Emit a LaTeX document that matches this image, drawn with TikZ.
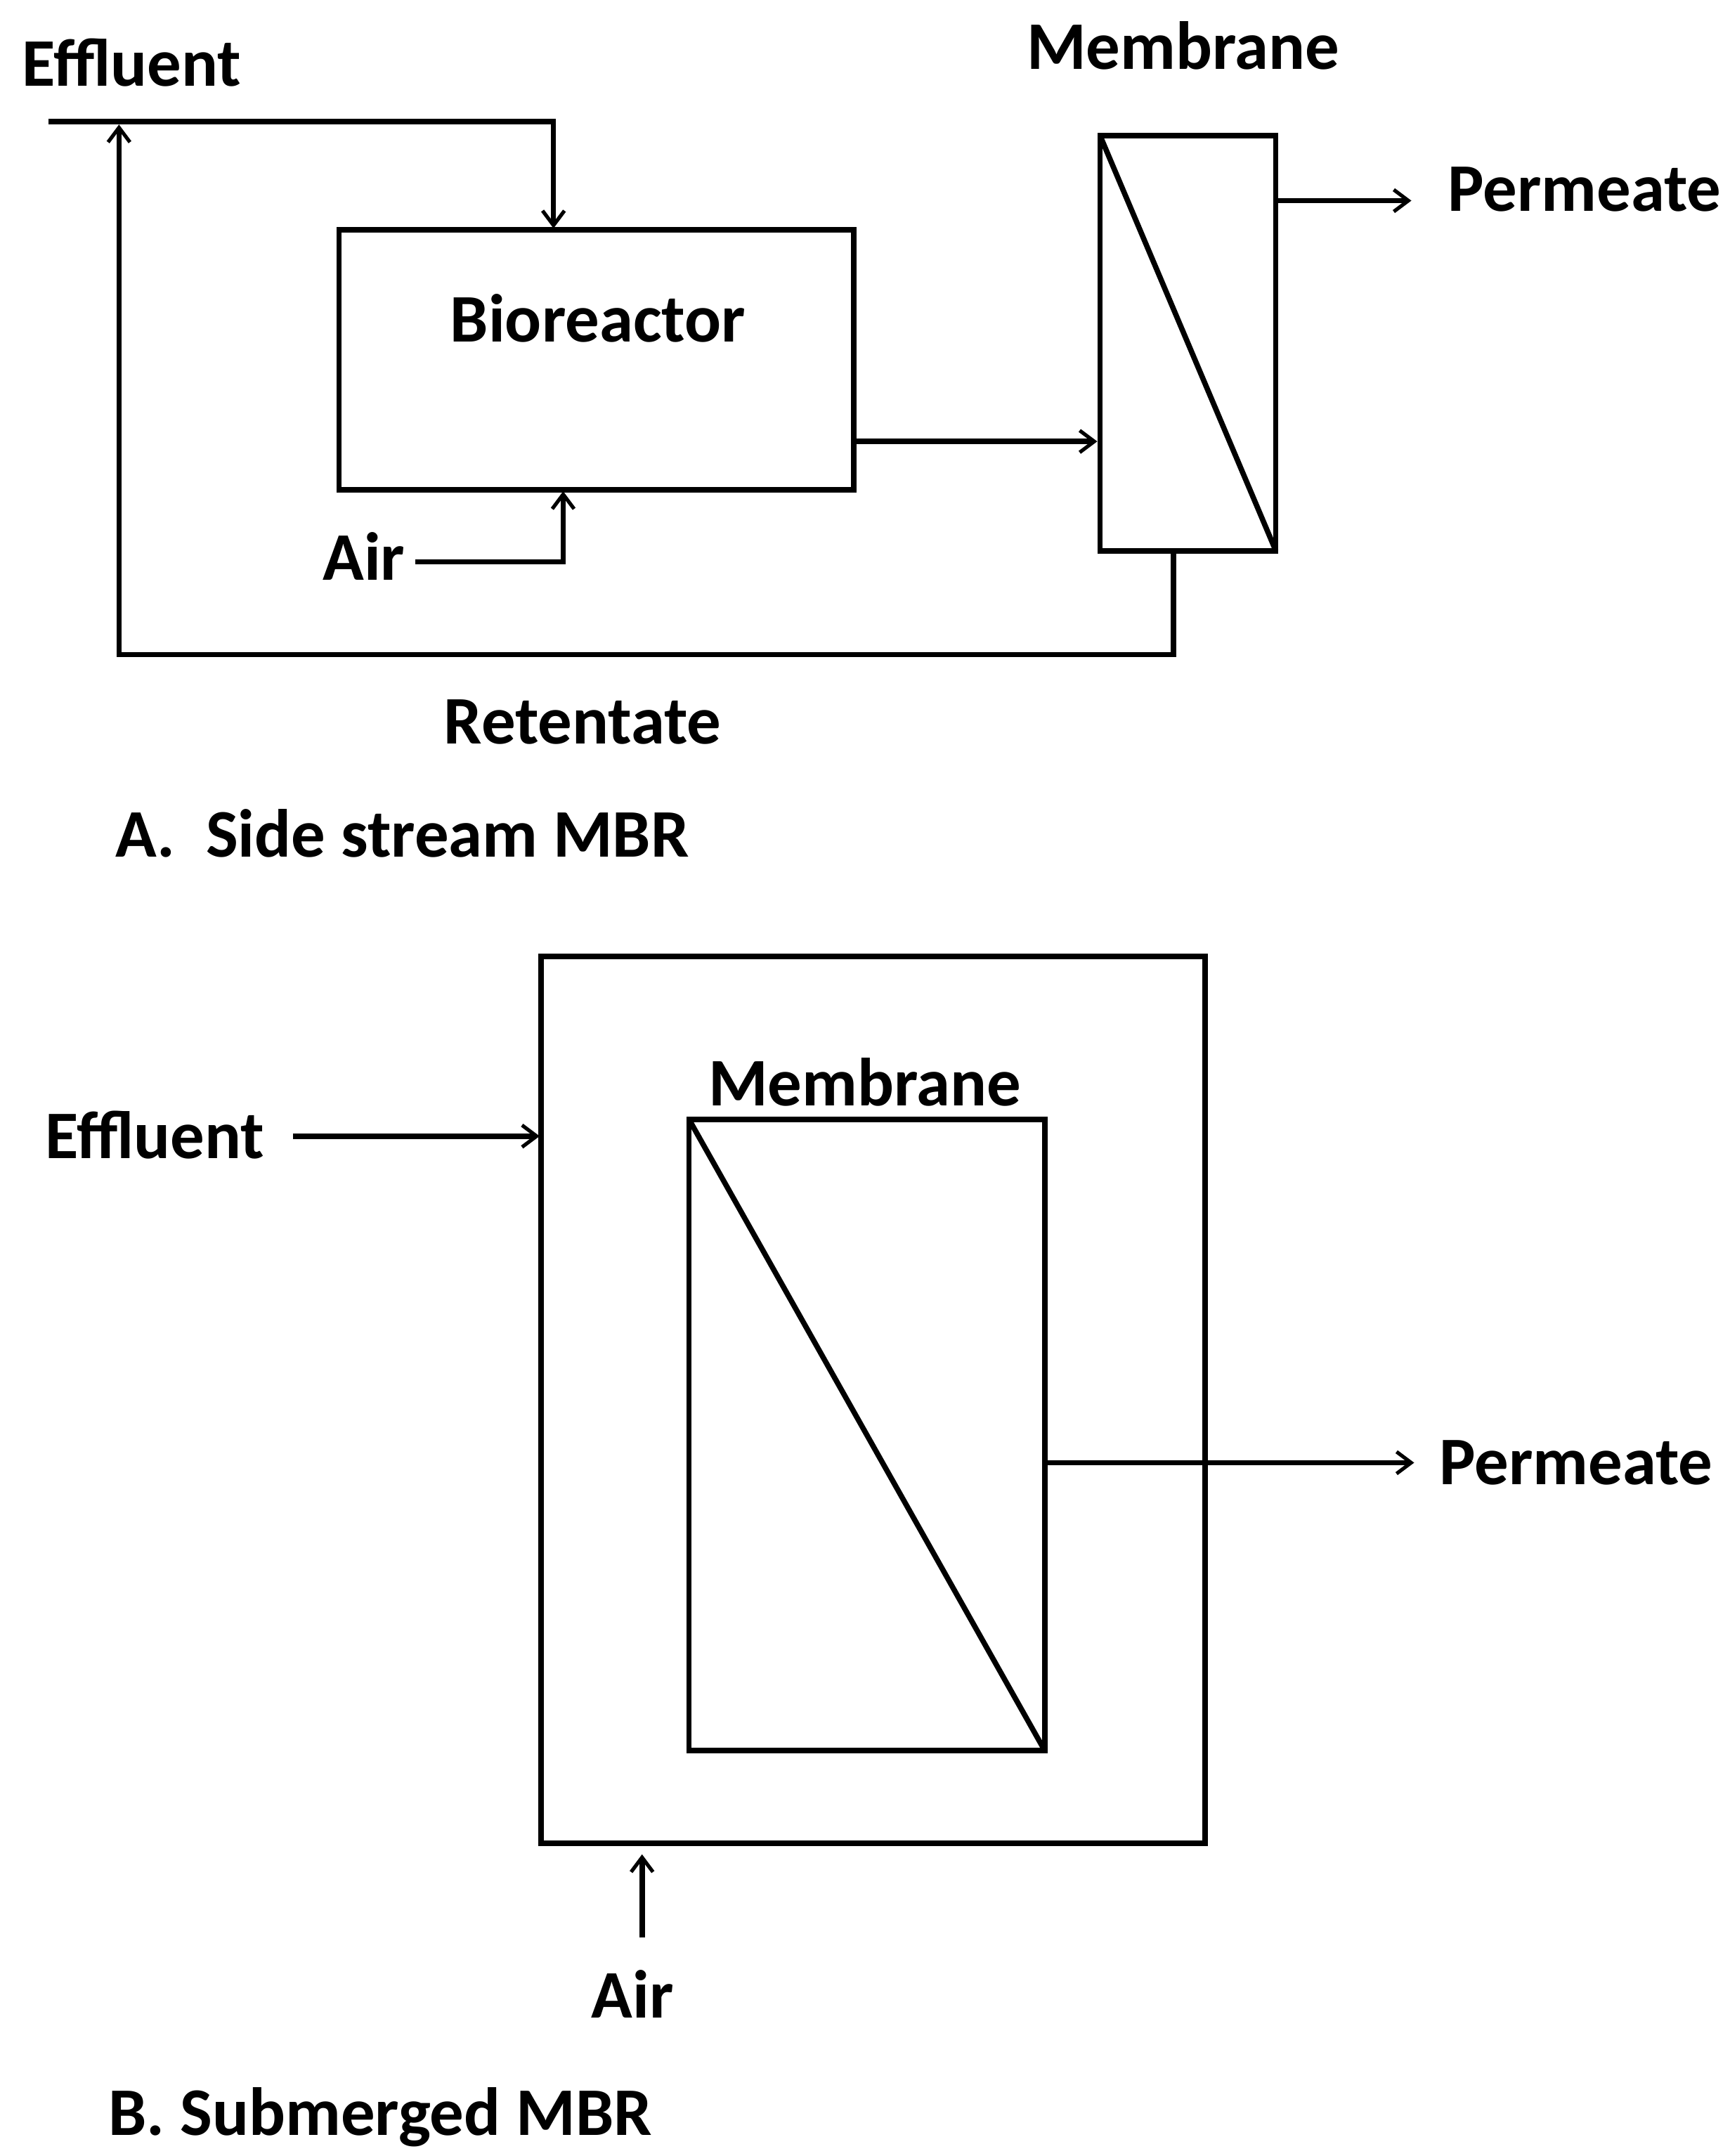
\documentclass[tikz,border=0pt]{standalone}
\usepackage{fontspec}
\setmainfont{Carlito}
\usetikzlibrary{arrows.meta}
\begin{document}
\begin{tikzpicture}[x=0.02cm,y=-0.02cm,
  ln/.style={line width=2.2pt},
  arr/.style={ln,-{Straight Barb[length=6pt,width=9pt,line width=1.5pt]}},
  box/.style={ln,draw,fill=none},
  lbl/.style={font=\fontsize{28}{32}\selectfont\bfseries,inner sep=0pt}]
\useasboundingbox (0,0) rectangle (1250,1558);
% Panel A
\node[lbl] (effA) at (95,45) {Effluent};
\draw[box] (245,166) rectangle (617,354);
\coordinate (bioTop) at (400,165);
\node[lbl] (bio) at (432,230) {Bioreactor};
\coordinate (e0) at (35,88);
\coordinate (e1) at (400,88);
\draw[arr] (e0) -- (e1) -- (bioTop);
\node[lbl] (airA) at (263,402) {Air};
\coordinate (a1) at (407,406);
\coordinate (a2) at (407,355);
\draw[arr] (300,406) -- (a1) -- (a2);
\draw[box] (795,98) rectangle (922,398);
\draw[ln] (795,98) -- (922,398);
\node[lbl] (memA) at (855,33) {Membrane};
\draw[arr] (617,319) -- (793,319);
\node[lbl,anchor=west] (permA) at (1046,137) {Permeate};
\draw[arr] (922,145) -- (1020,145);
\coordinate (r1) at (848,473);
\coordinate (r2) at (86,473);
\coordinate (r3) at (86,90);
\draw[arr] (848,398) -- (r1) -- (r2) -- (r3);
\node[lbl] (ret) at (421,522) {Retentate};
\node[lbl,anchor=west] (capA) at (83,602) {A.\ \ Side stream MBR};
% Panel B
\draw[box] (391,691) rectangle (871,1332);
\draw[box] (498,809) rectangle (755,1265);
\draw[ln] (498,809) -- (755,1265);
\node[lbl] (memB) at (625,782) {Membrane};
\node[lbl] (effB) at (112,820) {Effluent};
\draw[arr] (212,821) -- (390,821);
\node[lbl,anchor=west] (permB) at (1040,1057) {Permeate};
\draw[arr] (755,1057) -- (1022,1057);
\draw[arr] (464,1400) -- (464,1340);
\node[lbl] (airB) at (457,1441) {Air};
\node[lbl,anchor=west] (capB) at (78,1530) {B. Submerged MBR};
\end{tikzpicture}
\end{document}
